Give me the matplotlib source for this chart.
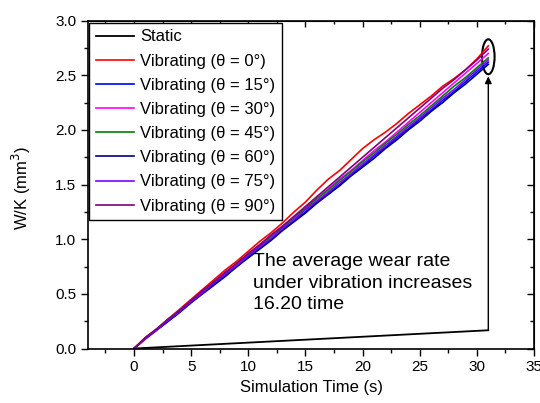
import matplotlib
matplotlib.use("Agg")
import matplotlib.pyplot as plt
from matplotlib.patches import Ellipse
from matplotlib.ticker import MultipleLocator, FormatStrFormatter

plt.rcParams['font.family'] = ['Liberation Sans', 'DejaVu Sans']

time = list(range(0, 32))

static_t = [0, 31]
static_v = [0.0, 0.167]

red_0 = [0, 0.10, 0.18, 0.27, 0.36, 0.45, 0.54, 0.63, 0.72, 0.80, 0.89, 0.98, 1.06, 1.15, 1.25,
         1.34, 1.45, 1.55, 1.63, 1.73, 1.83, 1.91, 1.98, 2.06, 2.15, 2.23, 2.31, 2.40, 2.47, 2.55, 2.65, 2.77]
blue_15 = [0, 0.09, 0.17, 0.25, 0.34, 0.42, 0.51, 0.59, 0.67, 0.75, 0.84, 0.92, 1.00, 1.09, 1.17,
           1.25, 1.34, 1.42, 1.50, 1.59, 1.67, 1.76, 1.84, 1.93, 2.01, 2.10, 2.18, 2.27, 2.35, 2.44, 2.53, 2.62]
magenta_30 = [0, 0.09, 0.18, 0.26, 0.35, 0.44, 0.52, 0.61, 0.69, 0.78, 0.86, 0.95, 1.03, 1.12, 1.20,
              1.29, 1.37, 1.46, 1.55, 1.63, 1.72, 1.81, 1.89, 1.98, 2.07, 2.16, 2.25, 2.34, 2.43, 2.52, 2.61, 2.70]
green_45 = [0, 0.10, 0.18, 0.27, 0.35, 0.44, 0.52, 0.61, 0.69, 0.78, 0.86, 0.94, 1.03, 1.11, 1.20,
            1.28, 1.37, 1.45, 1.54, 1.62, 1.71, 1.79, 1.88, 1.96, 2.05, 2.13, 2.22, 2.31, 2.40, 2.48, 2.57, 2.66]
navy_60 = [0, 0.09, 0.17, 0.25, 0.33, 0.42, 0.50, 0.58, 0.66, 0.75, 0.83, 0.91, 0.99, 1.08, 1.16,
           1.24, 1.33, 1.41, 1.49, 1.58, 1.66, 1.74, 1.83, 1.91, 2.00, 2.08, 2.17, 2.25, 2.34, 2.42, 2.51, 2.60]
violet_75 = [0, 0.09, 0.17, 0.26, 0.34, 0.43, 0.51, 0.60, 0.68, 0.76, 0.85, 0.93, 1.01, 1.10, 1.18,
             1.27, 1.35, 1.43, 1.52, 1.60, 1.69, 1.77, 1.86, 1.94, 2.03, 2.11, 2.20, 2.29, 2.37, 2.46, 2.55, 2.64]
purple_90 = [0, 0.10, 0.18, 0.27, 0.35, 0.44, 0.53, 0.61, 0.70, 0.78, 0.87, 0.95, 1.04, 1.12, 1.21,
             1.30, 1.39, 1.48, 1.57, 1.66, 1.75, 1.84, 1.93, 2.02, 2.11, 2.20, 2.29, 2.38, 2.46, 2.55, 2.64, 2.74]

labels = ["Static", "Vibrating (θ = 0°)", "Vibrating (θ = 15°)", "Vibrating (θ = 30°)",
          "Vibrating (θ = 45°)", "Vibrating (θ = 60°)", "Vibrating (θ = 75°)", "Vibrating (θ = 90°)"]
colors = ["#000000", "#FF0000", "#0000FF", "#FF00FF", "#008000", "#000080", "#8000FF", "#800080"]
series = [red_0, blue_15, magenta_30, green_45, navy_60, violet_75, purple_90]

fig = plt.figure(figsize=(5.4, 4.03), dpi=100)
ax = fig.add_axes([0.1635, 0.1352, 0.8254, 0.8134])

ax.plot(static_t, static_v, color=colors[0], lw=1.3, label=labels[0])
for s, c, l in zip(series, colors[1:], labels[1:]):
    ax.plot(time, s, color=c, lw=1.2, label=l)

ax.set_xlim(-4, 35)
ax.set_ylim(0, 3.0)
ax.xaxis.set_major_locator(MultipleLocator(5))
ax.xaxis.set_minor_locator(MultipleLocator(2.5))
ax.yaxis.set_major_locator(MultipleLocator(0.5))
ax.yaxis.set_minor_locator(MultipleLocator(0.25))
ax.yaxis.set_major_formatter(FormatStrFormatter('%.1f'))
ax.tick_params(which='both', direction='out', top=False, right=False, labelsize=11, width=1)
ax.tick_params(which='major', length=5)
ax.tick_params(which='minor', length=3)
for sp in ax.spines.values():
    sp.set_linewidth(1.2)

# inward ticks on top and right
secx = ax.secondary_xaxis('top')
secx.xaxis.set_major_locator(MultipleLocator(5))
secx.xaxis.set_minor_locator(MultipleLocator(2.5))
secx.tick_params(which='both', direction='in', labeltop=False, width=1)
secx.tick_params(which='major', length=4)
secx.tick_params(which='minor', length=2.5)
secy = ax.secondary_yaxis('right')
secy.yaxis.set_major_locator(MultipleLocator(0.5))
secy.yaxis.set_minor_locator(MultipleLocator(0.25))
secy.tick_params(which='both', direction='in', labelright=False, width=1)
secy.tick_params(which='major', length=5)
secy.tick_params(which='minor', length=3)

ax.set_xlabel("Simulation Time (s)", fontsize=12)
ax.set_ylabel("W/K (mm$^3$)", fontsize=12)
ax.yaxis.set_label_coords(-0.124, 0.49)

leg = ax.legend(loc='upper left', bbox_to_anchor=(0.002, 0.994), borderaxespad=0,
                fontsize=12, frameon=True, fancybox=False, framealpha=1,
                edgecolor='black', handlelength=2.3, handletextpad=0.35,
                labelspacing=0.55, borderpad=0.4)
leg.get_frame().set_linewidth(1.0)

ell = Ellipse((31, 2.67), width=1.1, height=0.32, fill=False, edgecolor='black', lw=1.5)
ax.add_patch(ell)
ax.annotate("", xy=(31, 2.49), xytext=(31, 0.17),
            arrowprops=dict(arrowstyle='-|>', color='black', lw=1.0,
                            mutation_scale=10, shrinkA=0, shrinkB=0))

ax.text(10.45, 0.87, "The average wear rate\nunder vibration increases\n16.20 time",
        fontsize=14, ha='left', va='top', linespacing=1.32)

fig.savefig("out.png", dpi=100)
